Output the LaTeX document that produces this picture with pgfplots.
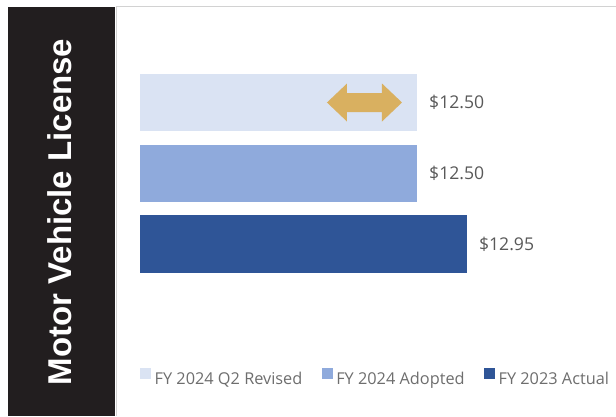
\documentclass[border=0pt]{standalone}
\usepackage{fontspec}
\setmainfont{Open Sans}
\newfontfamily\titlefont{Liberation Sans}
\usepackage{pgfplots}
\pgfplotsset{compat=1.18}

\definecolor{revised}{HTML}{DAE3F3}
\definecolor{adopted}{HTML}{8FAADC}
\definecolor{actual}{HTML}{2F5597}
\definecolor{band}{HTML}{221E1F}
\definecolor{gold}{HTML}{D9B060}
\definecolor{valgray}{HTML}{595959}
\definecolor{leggray}{HTML}{6E6E6E}

\begin{document}
\begin{tikzpicture}
\useasboundingbox (0,0) rectangle (616pt,416pt);
\fill[white] (0,0) rectangle (616pt,416pt);
% dark side band with the title
\fill[band] (8pt,0) rectangle (115pt,409pt);
\draw[gray!35, line width=1pt] (116pt,0) -- (116pt,409pt) -- (616pt,409pt);
\node[rotate=90, anchor=base, text=white, inner sep=0pt,
      font=\titlefont\bfseries\fontsize{33}{36}\selectfont]
  at (71pt,204pt) {Motor Vehicle License};

\begin{axis}[
  at={(140pt,70pt)}, anchor=south west,
  scale only axis, width=476pt, height=338pt,
  xmin=10, xmax=14.296,
  ymin=-1.442, ymax=3.336,
  axis line style={draw=none}, ticks=none,
  xbar, bar width=0.806, bar shift=0pt,
  point meta=x,
  nodes near coords={\$\pgfmathprintnumber[fixed,fixed zerofill,precision=2,assume math mode=true]{\pgfplotspointmeta}},
  every node near coord/.append style={anchor=west, inner xsep=0pt, xshift=12pt,
    font=\fontsize{17.6}{20}\selectfont, text=valgray},
  legend columns=3,
  legend cell align=left,
  legend image code/.code={\fill[#1] (0pt,0pt) rectangle (11pt,11pt);},
  legend style={at={(0,-0.0947)}, anchor=west, draw=none, fill=none,
    inner sep=0pt, font=\fontsize{16.3}{19}\selectfont, text=leggray,
    /tikz/every odd column/.append style={column sep=1.5pt},
    /tikz/every even column/.append style={column sep=17.5pt}},
]
\addplot[fill=revised, draw=none] coordinates {(12.50,2)};
\addlegendentry{FY 2024 Q2 Revised}
\addplot[fill=adopted, draw=none] coordinates {(12.50,1)};
\addlegendentry{FY 2024 Adopted}
\addplot[fill=actual, draw=none] coordinates {(12.95,0)};
\addlegendentry{FY 2023 Actual}

% double arrow marker on the revised bar
\fill[gold] (axis cs:12.026,2) ++(-37.5pt,0pt) -- ++(20pt,19pt) -- ++(0pt,-9.5pt)
  -- ++(35pt,0pt) -- ++(0pt,9.5pt) -- ++(20pt,-19pt) -- ++(-20pt,-19pt)
  -- ++(0pt,9.5pt) -- ++(-35pt,0pt) -- ++(0pt,-9.5pt) -- cycle;
\end{axis}
\end{tikzpicture}
\end{document}
